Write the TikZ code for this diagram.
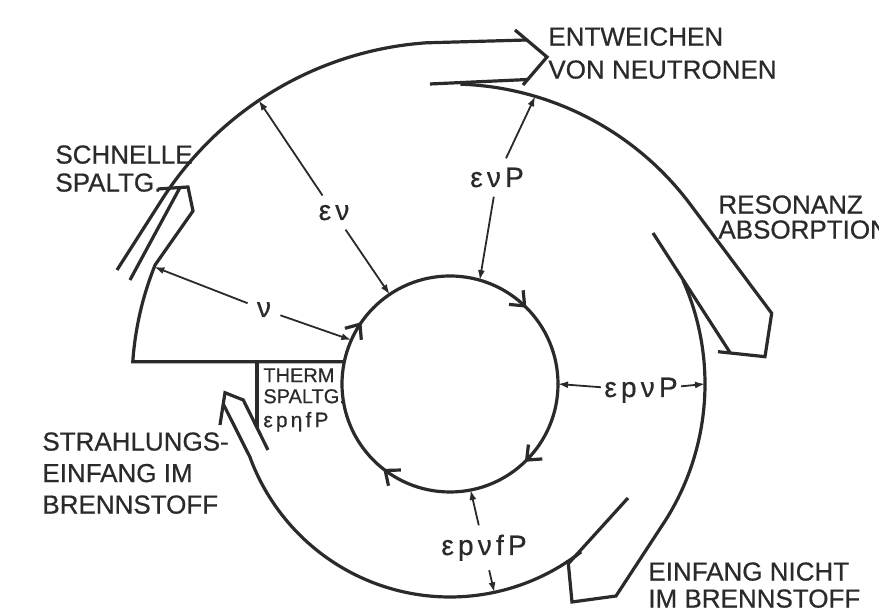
\documentclass[tikz,border=0pt]{standalone}
\usepackage{fontspec}
\setmainfont[FakeBold=0.6]{Liberation Sans}
\newfontfamily\greekfont[LetterSpace=15,FakeBold=0.6]{Liberation Sans}
\usetikzlibrary{arrows.meta,decorations.markings}
\definecolor{ink}{HTML}{2A2A2A}

\begin{document}
\begin{tikzpicture}[x=0.5pt, y=0.5pt, color=ink,
    band/.style={line width=1.6pt},
    dim/.style={line width=0.9pt, -{Latex[length=5pt,width=3.5pt]}},
    loss/.style={font=\fontsize{13}{#1}\selectfont, align=left, anchor=north west, inner sep=0pt},
    factor/.style={font=\greekfont\fontsize{14}{16}\selectfont, anchor=base, inner sep=4.5pt},
    turn/.style={postaction=decorate, decoration={markings,
        mark=at position 0.097 with {\arrow{Straight Barb[length=6pt,width=10pt]}},
        mark=at position 0.375 with {\arrow{Straight Barb[length=6pt,width=10pt]}},
        mark=at position 0.628 with {\arrow{Straight Barb[length=6pt,width=10pt]}},
        mark=at position 0.856 with {\arrow{Straight Barb[length=6pt,width=10pt]}}}}]
    \useasboundingbox[fill=white] (-450,-229) rectangle (429,384);

    % Thermal neutrons (inner circle, clockwise)
    \draw[band, turn] (180:108) arc[start angle=180, end angle=-180, radius=108];

    % Fission edge, left turn and fast fission arrow
    \draw[band] (168.1:108) -- (176:318) arc[start angle=176, end angle=158, radius=318]
        -- (-257,173) -- (-262,197) -- (-292,195);
    \draw[band] (-320,104) -- (-270,196.5);

    % Outer turn and leakage arrow
    \draw[band] (-333,114) -- (148:342) arc[start angle=148, end angle=94, radius=342] -- (77,344);
    \draw[band] (65,354) -- (97,327) -- (73,299);
    \draw[band] (-20,300) -- (78,304.5);

    % Second turn and resonance absorption
    \draw[band] (88:300) arc[start angle=88, end angle=37, radius=300]
        -- (321.7,70.7) -- (315,27.3) -- (268,32.3);
    \draw[band] (203,151) -- (280,31.5);

    % Third turn and capture outside the fuel
    \draw[band] (24:255) arc[start angle=24, end angle=-34, radius=255]
        -- (166,-212) -- (122,-218) -- (118,-176);
    \draw[band] (178,-114) -- (119,-179);

    % Fourth turn and radiative capture in the fuel
    \draw[band] (-52:213) arc[start angle=-52, end angle=-160, radius=213] -- (-226.7,-20);
    \draw[band] (-230,-41) -- (-225,-8.7) -- (-206.7,-16) -- (-182,-66);
    \draw[band] (-193,22.2) -- (-193,-43.7);

    % Loss labels
    \node[loss=16.5] (leak) at (98,357) {ENTWEICHEN\\VON NEUTRONEN};
    \node[loss=12.5] (reso) at (268,189) {RESONANZ\\ABSORPTION};
    \node[loss=14] (fast) at (-395,239) {SCHNELLE\\SPALTG.};
    \node[loss=15.75] (fuelcap) at (-408,-48) {STRAHLUNGS-\\EINFANG IM\\BRENNSTOFF};
    \node[loss=13.5] (othercap) at (198,-178) {EINFANG NICHT\\IM BRENNSTOFF};
    \node[loss=10.5, font=\fontsize{10}{10.5}\selectfont] (therm) at (-187,16)
        {THERM\\SPALTG.\\[1.5pt]{\greekfont\fontsize{10.5}{11}\selectfont εpηfP}};

    % Factors along the cycle
    \node[factor] (nu) at (-186,67) {ν};
    \node[factor] (ev) at (-116,164) {εν};
    \node[factor] (evp) at (47,197) {ενP};
    \node[factor, inner sep=1.5pt] (epvp) at (191,-13) {εpνP};
    \node[factor] (epvfp) at (34,-171) {εpνfP};

    \coordinate (nu-out) at (158.4:318);
    \coordinate (nu-in) at (156:108);
    \coordinate (ev-out) at (124:342);
    \coordinate (ev-in) at (124:108);
    \coordinate (evp-out) at (73.5:300);
    \coordinate (evp-in) at (74:108);
    \coordinate (epvp-out) at (0:255);
    \coordinate (epvp-in) at (0:108);
    \coordinate (epvfp-out) at (-78:213);
    \coordinate (epvfp-in) at (-79:108);

    \foreach \f in {nu,ev,evp,epvp,epvfp} {
        \draw[dim] (\f) -- (\f-out);
        \draw[dim] (\f) -- (\f-in);
    }
\end{tikzpicture}
\end{document}
